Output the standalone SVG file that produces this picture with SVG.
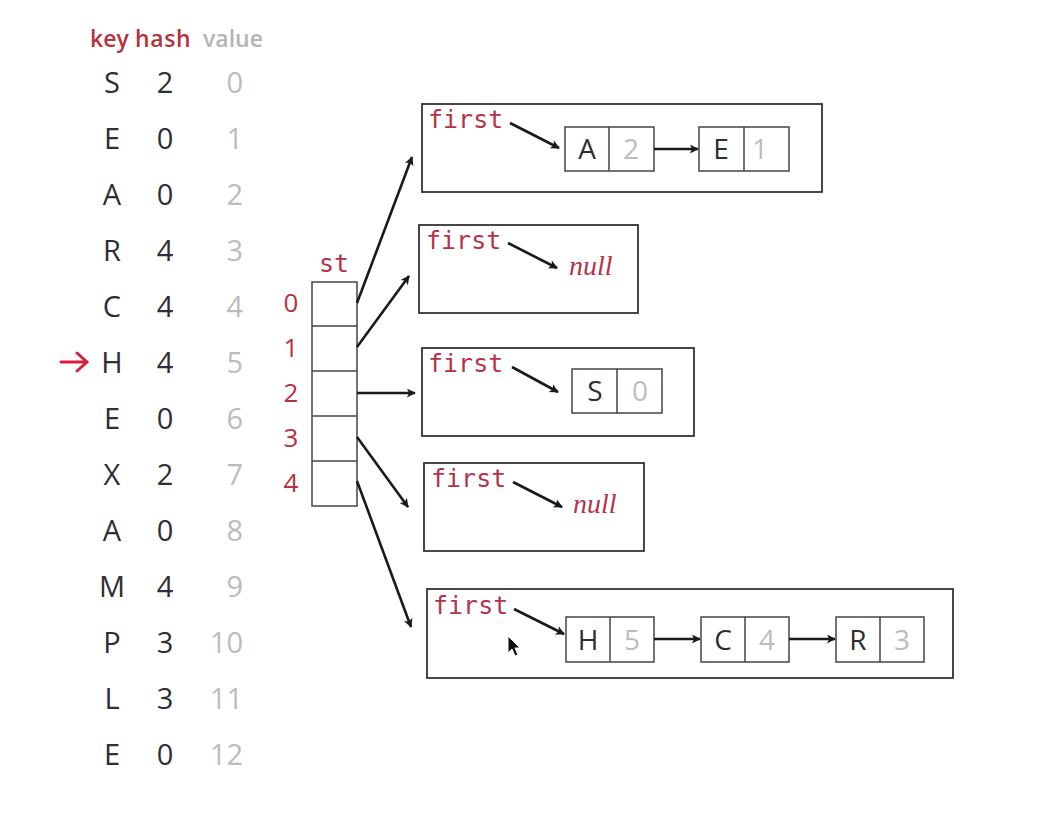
<svg xmlns="http://www.w3.org/2000/svg" width="1050" height="816" viewBox="0 0 1050 816">
<style>
.h{font-family:"Open Sans","Noto Sans",sans-serif;font-size:29px;fill:#2e2e35;text-anchor:middle}
.v{font-family:"Open Sans","Noto Sans",sans-serif;font-size:29px;fill:#bcbcc0;text-anchor:end}
.hd{font-family:"Open Sans","Noto Sans",sans-serif;font-size:23px;font-weight:600}
.idx{font-family:"Open Sans","Noto Sans",sans-serif;font-size:26px;fill:#b5333c;text-anchor:middle}
.mono{font-family:"DejaVu Sans Mono","Liberation Mono",monospace;font-size:25px;fill:#b5334a}
.null{font-family:"Liberation Serif",serif;font-style:italic;font-size:28px;fill:#b5334a}
.box{fill:none;stroke:#333;stroke-width:1.8}
.cell{fill:#fff;stroke:#444;stroke-width:1.5}
.nk{font-family:"Open Sans","Noto Sans",sans-serif;font-size:28px;fill:#2e2e35;text-anchor:middle}
.nv{font-family:"Open Sans","Noto Sans",sans-serif;font-size:28px;fill:#bcbcc0;text-anchor:middle}
.arr{stroke:#1a1a1a;stroke-width:2.6;fill:none;marker-end:url(#ah)}
</style>
<defs>
<marker id="ah" viewBox="0 0 10 10" refX="9" refY="5" markerWidth="13" markerHeight="9" orient="auto" markerUnits="userSpaceOnUse">
<path d="M0,0 L10,5 L0,10 L2.5,5 Z" fill="#1a1a1a"/>
</marker>
</defs>
<rect width="1050" height="816" fill="#fff"/>

<g id="table">
<text class="hd" x="90" y="47" fill="#b5333c">key</text>
<text class="hd" x="135" y="47" fill="#b5333c" letter-spacing="0.6">hash</text>
<text class="hd" x="203" y="47" fill="#b4b4b8">value</text>
<g>
<text class="h" x="112" y="93">S</text><text class="h" x="165" y="93">2</text><text class="v" x="243" y="93">0</text>
<text class="h" x="112" y="149">E</text><text class="h" x="165" y="149">0</text><text class="v" x="243" y="149">1</text>
<text class="h" x="112" y="205">A</text><text class="h" x="165" y="205">0</text><text class="v" x="243" y="205">2</text>
<text class="h" x="112" y="261">R</text><text class="h" x="165" y="261">4</text><text class="v" x="243" y="261">3</text>
<text class="h" x="112" y="317">C</text><text class="h" x="165" y="317">4</text><text class="v" x="243" y="317">4</text>
<text class="h" x="112" y="373">H</text><text class="h" x="165" y="373">4</text><text class="v" x="243" y="373">5</text>
<text class="h" x="112" y="429">E</text><text class="h" x="165" y="429">0</text><text class="v" x="243" y="429">6</text>
<text class="h" x="112" y="485">X</text><text class="h" x="165" y="485">2</text><text class="v" x="243" y="485">7</text>
<text class="h" x="112" y="541">A</text><text class="h" x="165" y="541">0</text><text class="v" x="243" y="541">8</text>
<text class="h" x="112" y="597">M</text><text class="h" x="165" y="597">4</text><text class="v" x="243" y="597">9</text>
<text class="h" x="112" y="653">P</text><text class="h" x="165" y="653">3</text><text class="v" x="243" y="653">10</text>
<text class="h" x="112" y="709">L</text><text class="h" x="165" y="709">3</text><text class="v" x="243" y="709">11</text>
<text class="h" x="112" y="765">E</text><text class="h" x="165" y="765">0</text><text class="v" x="243" y="765">12</text>
</g>
<g id="pointer" stroke="#d81e3a" stroke-width="3" fill="none" stroke-linecap="round" stroke-linejoin="round">
<line x1="61" y1="362" x2="87" y2="362"/>
<polyline points="77,353 87,362 77,371"/>
</g>
</g>

<g id="st">
<text class="mono" x="319" y="272">st</text>
<rect class="cell" x="312" y="282" width="45" height="224"/>
<line class="cell" x1="312" y1="326" x2="357" y2="326"/>
<line class="cell" x1="312" y1="371" x2="357" y2="371"/>
<line class="cell" x1="312" y1="416" x2="357" y2="416"/>
<line class="cell" x1="312" y1="461" x2="357" y2="461"/>
<text class="idx" x="291" y="312">0</text>
<text class="idx" x="291" y="357">1</text>
<text class="idx" x="291" y="402">2</text>
<text class="idx" x="291" y="447">3</text>
<text class="idx" x="291" y="492">4</text>
</g>

<g id="connectors">
<line class="arr" x1="357" y1="303" x2="412" y2="157"/>
<line class="arr" x1="357" y1="347" x2="409" y2="276"/>
<line class="arr" x1="357" y1="393" x2="415" y2="393"/>
<line class="arr" x1="357" y1="437" x2="408" y2="507"/>
<line class="arr" x1="357" y1="481" x2="411" y2="627"/>
</g>

<g id="list0">
<rect class="box" x="422" y="104" width="400" height="88"/>
<text class="mono" x="428" y="128">first</text>
<line class="arr" x1="510" y1="123" x2="559" y2="148"/>
<rect class="cell" x="565" y="127" width="89" height="44"/>
<line class="cell" x1="609" y1="127" x2="609" y2="171"/>
<text class="nk" x="587" y="159">A</text><text class="nv" x="631" y="159">2</text>
<line class="arr" x1="654" y1="149" x2="698" y2="149"/>
<rect class="cell" x="699" y="127" width="90" height="44"/>
<line class="cell" x1="744" y1="127" x2="744" y2="171"/>
<text class="nk" x="721" y="159">E</text><text class="nv" x="760" y="159">1</text>
</g>

<g id="list1">
<rect class="box" x="419" y="225" width="219" height="88"/>
<text class="mono" x="426" y="249">first</text>
<line class="arr" x1="508" y1="243" x2="557" y2="268"/>
<text class="null" x="569" y="275">null</text>
</g>

<g id="list2">
<rect class="box" x="422" y="348" width="272" height="88"/>
<text class="mono" x="428" y="372">first</text>
<line class="arr" x1="512" y1="367" x2="558" y2="392"/>
<rect class="cell" x="572" y="369" width="90" height="44"/>
<line class="cell" x1="617" y1="369" x2="617" y2="413"/>
<text class="nk" x="595" y="401">S</text><text class="nv" x="640" y="401">0</text>
</g>

<g id="list3">
<rect class="box" x="424" y="463" width="220" height="88"/>
<text class="mono" x="431" y="487">first</text>
<line class="arr" x1="513" y1="482" x2="562" y2="507"/>
<text class="null" x="573" y="513">null</text>
</g>

<g id="list4">
<rect class="box" x="427" y="589" width="526" height="89"/>
<text class="mono" x="433" y="614">first</text>
<line class="arr" x1="514" y1="609" x2="564" y2="634"/>
<rect class="cell" x="566" y="617" width="88" height="45"/>
<line class="cell" x1="610" y1="617" x2="610" y2="662"/>
<text class="nk" x="588" y="650">H</text><text class="nv" x="632" y="650">5</text>
<line class="arr" x1="654" y1="639" x2="700" y2="639"/>
<rect class="cell" x="701" y="617" width="88" height="45"/>
<line class="cell" x1="745" y1="617" x2="745" y2="662"/>
<text class="nk" x="723" y="650">C</text><text class="nv" x="767" y="650">4</text>
<line class="arr" x1="789" y1="639" x2="835" y2="639"/>
<rect class="cell" x="836" y="617" width="88" height="45"/>
<line class="cell" x1="880" y1="617" x2="880" y2="662"/>
<text class="nk" x="858" y="650">R</text><text class="nv" x="902" y="650">3</text>
</g>

<g id="cursor">
<path d="M508,636 L508,653 L512,649 L515,656 L518,655 L515,648 L520,648 Z" fill="#111" stroke="#fff" stroke-width="1"/>
</g>
</svg>
